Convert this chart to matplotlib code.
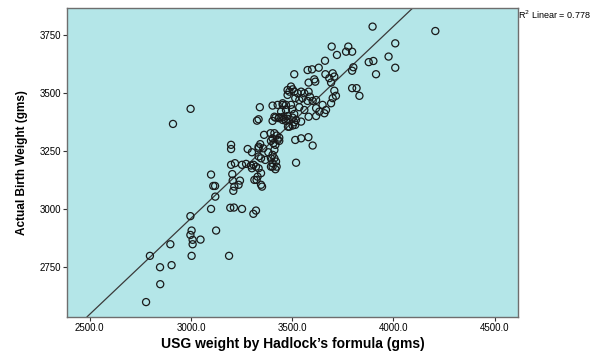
import matplotlib
matplotlib.use("Agg")
import matplotlib.pyplot as plt
import numpy as np

# USG estimated weight (Hadlock) vs actual birth weight, grams
usg_weight = [
    2778, 2848, 2847, 2904, 2797, 3003, 3188, 2898, 2997, 3003,
    3008, 3008, 3047, 3124, 2997, 3099, 3194, 3212, 3252, 3308,
    3321, 3120, 3110, 3119, 3099, 3204, 3206, 3214, 3209, 3242,
    3235, 2998, 2911, 3198, 3198, 3280, 3301, 3334, 3340, 3326,
    3334, 3198, 3217, 3252, 3272, 3296, 3309, 3301, 3321, 3334,
    3403, 3417, 3346, 3313, 3324, 3329, 3346, 3351, 3519, 3436,
    3515, 3544, 3580, 3601, 3453, 3477, 3502, 3519, 3510, 3544,
    3581, 3486, 3502, 3515, 3403, 3417, 3433, 3461, 3456, 3469,
    3479, 3361, 3393, 3412, 3423, 3403, 3395, 3407, 3417, 3428,
    3436, 3342, 3357, 3334, 3382, 3412, 3403, 3346, 3367, 3395,
    3412, 3420, 3403, 3395, 3423, 3403, 3428, 3453, 3445, 3477,
    3477, 3412, 3436, 3695, 3777, 3766, 3796, 3721, 3662, 3510,
    3576, 3598, 3631, 3878, 3901, 3802, 3796, 3664, 3700, 3683,
    3708, 3692, 3914, 3581, 3609, 3614, 3494, 3502, 3486, 3510,
    3527, 3544, 3560, 3581, 3588, 3708, 3716, 3700, 3796, 3818,
    3832, 3515, 3535, 3551, 3576, 3601, 3618, 3469, 3494, 3469,
    3499, 3535, 3560, 3618, 3650, 3692, 3634, 3659, 3618, 3667,
    3453, 3477, 3510, 3897, 4207, 4009, 3976, 4009, 3334,
]
birth_weight = [
    2600, 2677, 2750, 2759, 2799, 2799, 2799, 2849, 2889, 2908,
    2868, 2849, 2869, 2908, 2970, 3001, 3006, 3007, 3001, 2980,
    2994, 3054, 3100, 3100, 3149, 3151, 3123, 3097, 3079, 3123,
    3105, 3432, 3367, 3277, 3259, 3259, 3245, 3269, 3439, 3381,
    3387, 3191, 3198, 3191, 3195, 3188, 3191, 3176, 3183, 3176,
    3183, 3172, 3155, 3126, 3126, 3140, 3105, 3097, 3200, 3294,
    3298, 3305, 3310, 3274, 3384, 3389, 3394, 3384, 3374, 3377,
    3398, 3355, 3360, 3363, 3380, 3394, 3392, 3389, 3398, 3380,
    3355, 3320, 3327, 3327, 3317, 3305, 3294, 3284, 3277, 3298,
    3308, 3280, 3262, 3262, 3245, 3255, 3234, 3219, 3212, 3219,
    3219, 3205, 3198, 3183, 3183, 3446, 3449, 3449, 3420, 3513,
    3492, 3398, 3396, 3700, 3700, 3678, 3678, 3664, 3639, 3581,
    3599, 3602, 3609, 3633, 3638, 3611, 3596, 3581, 3585, 3564,
    3571, 3545, 3581, 3545, 3559, 3549, 3528, 3516, 3506, 3506,
    3499, 3506, 3499, 3506, 3484, 3510, 3488, 3478, 3521, 3521,
    3488, 3478, 3470, 3478, 3466, 3466, 3470, 3449, 3449, 3427,
    3430, 3439, 3427, 3435, 3449, 3456, 3420, 3413, 3401, 3427,
    3456, 3401, 3410, 3786, 3767, 3714, 3657, 3609, 3227,
]
x_ticks = [2500, 3000, 3500, 4000, 4500]
y_ticks = [2750, 3000, 3250, 3500, 3750]
r2_label = "R$^2$ Linear = 0.778"

x = np.array(usg_weight, dtype=float)
y = np.array(birth_weight, dtype=float)
slope, intercept = np.polyfit(x, y, 1)

plt.rcParams['font.family'] = ['Liberation Sans', 'DejaVu Sans']

fig = plt.figure(figsize=(6.12, 3.51), dpi=100)
ax = fig.add_axes([0.110, 0.0977, 0.7356, 0.8781])
ax.set_facecolor('#b4e6e8')

ax.scatter(x, y, s=26, facecolors='none', edgecolors='#1a1a1a', linewidths=0.9, zorder=3)
ax.axline((x.mean(), slope * x.mean() + intercept), slope=slope, color='#3a3a3a', lw=0.9, zorder=2)

ax.set_xlim(2389, 4613)
ax.set_ylim(2537, 3864)
ax.set_xticks(x_ticks)
ax.set_xticklabels([f"{v:.1f}" for v in x_ticks])
ax.set_yticks(y_ticks)
ax.set_yticklabels([str(v) for v in y_ticks])
ax.tick_params(axis='both', labelsize=7, length=3, width=0.8, color='#333333',
               direction='out', pad=1.5)

for s in ax.spines.values():
    s.set_color('#6e6e6e')
    s.set_linewidth(1.0)

ax.set_xlabel("USG weight by Hadlock\u2019s formula (gms)", fontsize=10, fontweight='bold', labelpad=3)
ax.set_ylabel("Actual Birth Weight (gms)", fontsize=8.5, fontweight='bold', labelpad=8)

fig.text(0.847, 0.957, r2_label, fontsize=6.5, ha='left', va='center')

fig.savefig("out.png", dpi=100, facecolor='white')
